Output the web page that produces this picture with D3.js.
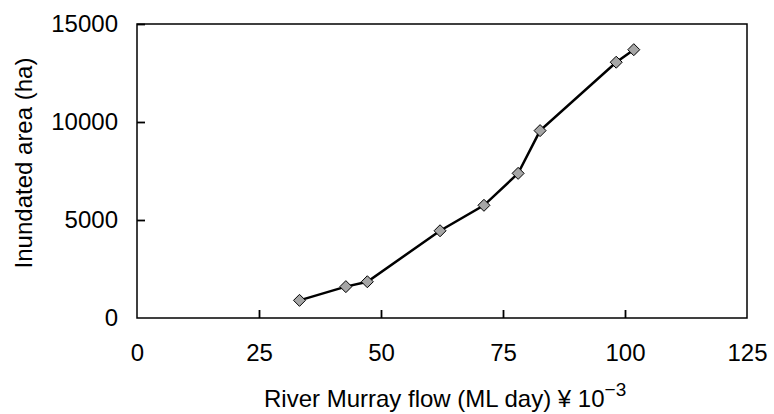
<!DOCTYPE html>
<html>
<head>
<meta charset="utf-8">
<script src="https://cdn.jsdelivr.net/npm/d3@7"></script>
<style>
  html, body { margin: 0; padding: 0; background: #fff; }
  svg text { font-family: "Liberation Sans", Arial, sans-serif; fill: #000; }
</style>
</head>
<body>
<svg id="chart" width="774" height="414"></svg>
<script>
const flow = [33.3, 42.8, 47.2, 62.1, 71.1, 78.1, 82.6, 98.2, 101.8];
const area = [900, 1600, 1850, 4450, 5750, 7380, 9560, 13050, 13690];
const xTicks = [0, 25, 50, 75, 100, 125];
const yTicks = [0, 5000, 10000, 15000];
const xTitle = "River Murray flow (ML day) ¥ 10";
const xTitleSup = "\u22123";
const yTitle = "Inundated area (ha)";

const svg = d3.select("#chart");
const L = 137, R = 747, T = 24, B = 318;
const x = d3.scaleLinear().domain([0, 125]).range([L, R]);
const y = d3.scaleLinear().domain([0, 15000]).range([B, T]);

// frame
svg.append("rect").attr("x", L).attr("y", T).attr("width", R - L).attr("height", B - T)
  .attr("fill", "none").attr("stroke", "#000").attr("stroke-width", 1.5);

// x axis (ticks inward)
const xAxis = d3.axisBottom(x).tickValues(xTicks).tickSize(-8).tickPadding(26).tickFormat(d3.format("d"));
const gx = svg.append("g").attr("transform", `translate(0,${B})`).call(xAxis);
gx.select(".domain").remove();
gx.selectAll(".tick line").attr("stroke", "#000").attr("stroke-width", 1.8)
  .filter(d => d === 0 || d === 125).remove();
gx.selectAll(".tick text").attr("font-size", 24).attr("font-family", "Liberation Sans, Arial, sans-serif").attr("dy", "0.71em");

// y axis (ticks inward)
const yAxis = d3.axisLeft(y).tickValues(yTicks).tickSize(-8).tickPadding(19).tickFormat(d3.format("d"));
const gy = svg.append("g").attr("transform", `translate(${L},0)`).call(yAxis);
gy.select(".domain").remove();
gy.selectAll(".tick line").attr("stroke", "#000").attr("stroke-width", 1.8)
  .filter(d => d === 0).remove();
gy.selectAll(".tick text").attr("font-size", 24).attr("font-family", "Liberation Sans, Arial, sans-serif");

// line
const pts = flow.map((f, i) => [f, area[i]]);
svg.append("path").datum(pts)
  .attr("d", d3.line().x(d => x(d[0])).y(d => y(d[1])))
  .attr("fill", "none").attr("stroke", "#000").attr("stroke-width", 2.5);

// markers
svg.append("g").selectAll("path").data(pts).join("path")
  .attr("transform", d => `translate(${x(d[0])},${y(d[1])})`)
  .attr("d", "M0,-6L6,0L0,6L-6,0Z")
  .attr("fill", "#a6a6a6").attr("stroke", "#000").attr("stroke-width", 1);

// x title
const xt = svg.append("text").attr("x", 264).attr("y", 407).attr("font-size", 24);
xt.append("tspan").text(xTitle);
xt.append("tspan").attr("font-size", 19).attr("dy", -11).text(xTitleSup);

// y title
svg.append("text").attr("transform", "translate(32,163) rotate(-90)")
  .attr("text-anchor", "middle").attr("font-size", 24).text(yTitle);
</script>
</body>
</html>
